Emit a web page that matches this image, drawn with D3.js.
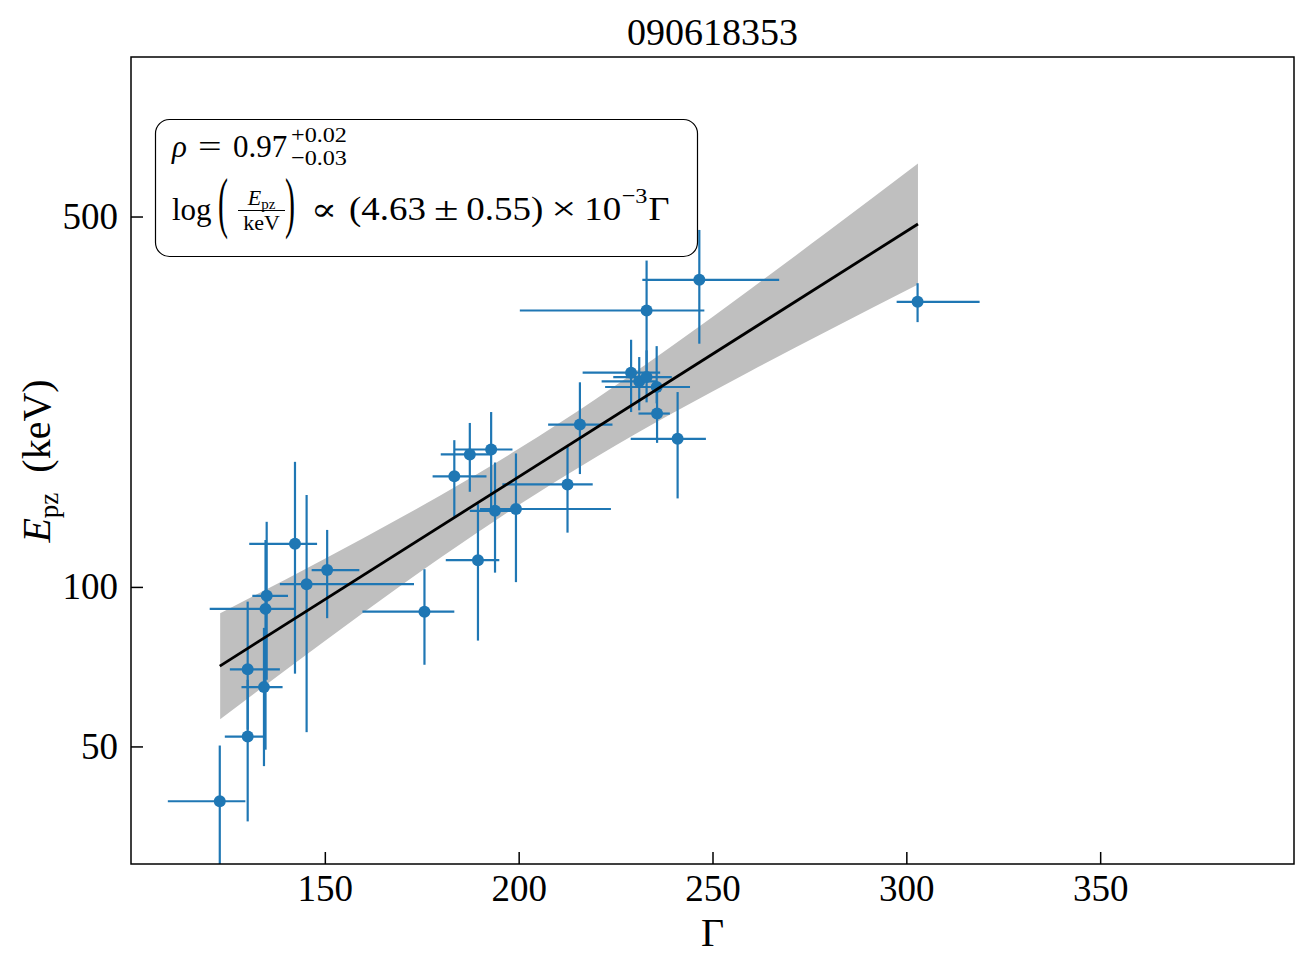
<!DOCTYPE html>
<html>
<head>
<meta charset="utf-8">
<script src="https://cdn.jsdelivr.net/npm/d3@7"></script>
<style>
  html, body { margin: 0; padding: 0; background: #fff; }
  svg { display: block; }
  text { font-family: "Liberation Serif", "DejaVu Serif", serif; fill: #000; }
</style>
</head>
<body>
<svg id="chart" width="1309" height="970"></svg>
<script>
// ---------------- data ----------------
const gamma   = [122.9, 130.1, 130.1, 134.3, 134.7, 135.0, 142.3, 145.3, 150.6, 175.7, 183.4, 187.4, 192.9, 189.5, 193.9, 199.3, 212.6, 215.8, 246.6, 233.0, 229.0, 231.1, 233.0, 235.6, 235.7, 241.0, 302.9];
const gammaLo = [109.5, 124.2, 125.5, 128.5, 120.3, 131.3, 130.5, 138.4, 146.6, 159.7, 177.8, 179.9, 183.5, 181.2, 187.4, 190.0, 195.8, 207.6, 231.9, 200.3, 216.5, 221.4, 224.4, 222.3, 230.9, 228.9, 297.5];
const gammaHi = [129.5, 134.3, 138.4, 139.1, 142.3, 140.5, 148.0, 173.0, 158.9, 183.4, 191.7, 193.0, 198.4, 195.0, 200.5, 223.8, 219.1, 224.2, 267.2, 247.9, 236.5, 235.6, 239.5, 244.2, 239.0, 248.3, 318.9];
const epz     = [39.4, 52.2, 69.9, 64.7, 90.9, 96.2, 120.6, 101.2, 107.6, 89.8, 161.7, 177.8, 181.7, 112.3, 139.2, 140.3, 156.1, 202.5, 379.7, 332.4, 253.7, 244.3, 248.9, 238.4, 212.4, 190.3, 345.1];
const epzLo   = [25.0, 36.1, 53.8, 45.9, 49.3, 66.8, 68.6, 53.2, 87.3, 71.3, 135.6, 151.2, 139.6, 79.2, 106.4, 102.1, 126.6, 163.3, 287.7, 245.4, 213.8, 215.4, 223.0, 222.0, 187.0, 146.9, 316.0];
const epzHi   = [50.2, 66.8, 93.8, 83.7, 122.6, 132.7, 172.2, 149.1, 128.1, 108.0, 189.2, 203.9, 213.8, 143.3, 171.7, 178.6, 183.8, 243.3, 471.7, 412.9, 292.7, 271.5, 279.5, 284.7, 235.0, 233.2, 374.2];

const fitGamma = [122.9, 303.0];
const fitEpz   = [70.9, 484.0];

const bandGamma = [123, 140, 160, 180, 200, 220, 240, 260, 280, 303];
const bandLo    = [56.3, 69.8, 89.5, 113.8, 142.7, 175.9, 213.3, 255.9, 305.1, 372.3];
const bandHi    = [89.2, 103.4, 123.7, 149.1, 182.2, 226.5, 286.3, 365.7, 469.9, 629.5];

const xTicks = [150, 200, 250, 300, 350];
const yTicks = [50, 100, 500];

const titleText = "090618353";

// ---------------- layout ----------------
const L = 131, R = 1294, T = 57, B = 864;
const svg = d3.select("#chart");

const x = d3.scaleLinear().domain([100, 400]).range([L, R]);
const y = d3.scaleLog().domain([30, 1000]).range([B, T]);

svg.append("defs").append("clipPath").attr("id", "clip")
  .append("rect").attr("x", L).attr("y", T).attr("width", R - L).attr("height", B - T);

const plot = svg.append("g").attr("clip-path", "url(#clip)");

// confidence band
const bandData = bandGamma.map((g, i) => ({ g, lo: bandLo[i], hi: bandHi[i] }));
plot.append("path")
  .datum(bandData)
  .attr("fill", "#bfbfbf")
  .attr("stroke", "none")
  .attr("d", d3.area().x(d => x(d.g)).y0(d => y(d.lo)).y1(d => y(d.hi)).curve(d3.curveMonotoneX));

// error bars
const pts = gamma.map((g, i) => ({ g, gl: gammaLo[i], gh: gammaHi[i], e: epz[i], el: epzLo[i], eh: epzHi[i] }));
const blue = "#1f77b4";
const eb = plot.append("g").attr("stroke", blue).attr("stroke-width", 2.2);
eb.selectAll("line.h").data(pts).join("line").attr("class", "h")
  .attr("x1", d => x(d.gl)).attr("x2", d => x(d.gh))
  .attr("y1", d => y(d.e)).attr("y2", d => y(d.e));
eb.selectAll("line.v").data(pts).join("line").attr("class", "v")
  .attr("x1", d => x(d.g)).attr("x2", d => x(d.g))
  .attr("y1", d => y(d.el)).attr("y2", d => y(d.eh));
plot.append("g").selectAll("circle").data(pts).join("circle")
  .attr("cx", d => x(d.g)).attr("cy", d => y(d.e)).attr("r", 6).attr("fill", blue);

// fit line
plot.append("path")
  .datum(fitGamma.map((g, i) => ({ g, e: fitEpz[i] })))
  .attr("fill", "none").attr("stroke", "#000").attr("stroke-width", 2.8)
  .attr("d", d3.line().x(d => x(d.g)).y(d => y(d.e)));

// axes
const xAxis = d3.axisBottom(x).tickValues(xTicks).tickSize(-12).tickPadding(11).tickFormat(d3.format("d"));
const gx = svg.append("g").attr("transform", `translate(0,${B})`).call(xAxis);
gx.select(".domain").remove();
gx.selectAll(".tick line").attr("stroke", "#000").attr("stroke-width", 1.5);
gx.selectAll(".tick text").attr("font-size", 37).attr("font-family", "Liberation Serif");

const yAxis = d3.axisLeft(y).tickValues(yTicks).tickSize(-12).tickPadding(13).tickFormat(d3.format("d"));
const gy = svg.append("g").attr("transform", `translate(${L},0)`).call(yAxis);
gy.select(".domain").remove();
gy.selectAll(".tick line").attr("stroke", "#000").attr("stroke-width", 1.5);
gy.selectAll(".tick text").attr("font-size", 37).attr("font-family", "Liberation Serif");

// frame
svg.append("rect").attr("x", L).attr("y", T).attr("width", R - L).attr("height", B - T)
  .attr("fill", "none").attr("stroke", "#000").attr("stroke-width", 1.5);

// title and axis labels
svg.append("text").attr("x", (L + R) / 2).attr("y", 45).attr("text-anchor", "middle")
  .attr("font-size", 38).text(titleText);
svg.append("text").attr("x", (L + R) / 2).attr("y", 946).attr("text-anchor", "middle")
  .attr("font-size", 40).text("Γ");

const yl = svg.append("text").attr("transform", "translate(50,461) rotate(-90)")
  .attr("text-anchor", "middle").attr("font-size", 40);
yl.append("tspan").attr("font-style", "italic").text("E");
yl.append("tspan").attr("font-size", 27).attr("dy", 8).text("pz");
yl.append("tspan").attr("dy", -8).text("\u2002(keV)");

// annotation box
svg.append("rect").attr("x", 155.5).attr("y", 119.5).attr("width", 542).attr("height", 137)
  .attr("rx", 14).attr("ry", 14).attr("fill", "#fff").attr("stroke", "#000").attr("stroke-width", 1.2);

function put(t, x0, y0, size, opts = {}) {
  const el = svg.append("text").attr("x", x0).attr("y", y0).attr("font-size", size)
    .attr("font-style", opts.italic ? "italic" : null).text(t);
  if (opts.sx || opts.sy) {
    const sx = opts.sx || 1, sy = opts.sy || 1;
    el.attr("transform", `translate(${x0},${y0}) scale(${sx},${sy}) translate(${-x0},${-y0})`);
  }
  return el;
}
function width(el, sx = 1) { return el.node().getComputedTextLength() * sx; }

// line 1: rho = 0.97^{+0.02}_{-0.03}
put("ρ", 172, 157, 31, { italic: true });
put("=", 198, 157, 31, { sx: 1.35 });
put("0.97", 233, 157, 31);
put("+0.02", 291, 142, 22, { sx: 1.1 });
put("−0.03", 291, 165, 22, { sx: 1.1 });

// line 2
const base2 = 220;
put("log", 172, base2, 31);
put("(", 218, 225, 30, { sy: 2.23 });
const num = svg.append("text").attr("y", 205).attr("font-size", 22);
num.append("tspan").attr("font-style", "italic").text("E");
num.append("tspan").attr("font-size", 15).attr("dy", 4).text("pz");
const den = svg.append("text").attr("y", 230).attr("font-size", 22).text("keV");
const fx0 = 238, fx1 = 285;
num.attr("x", (fx0 + fx1) / 2).attr("text-anchor", "middle");
den.attr("x", (fx0 + fx1) / 2).attr("text-anchor", "middle");
svg.append("line").attr("x1", fx0).attr("x2", fx1).attr("y1", 210.5).attr("y2", 210.5)
  .attr("stroke", "#000").attr("stroke-width", 1.2);
put(")", 285, 225, 30, { sy: 2.23 });
put("∝", 311, base2, 31, { sx: 1.25 });

// remaining pieces chained and spread to end at x = 668
const pieces = [
  { t: "(4.63", size: 33, y: base2, sx: 1.12 },
  { t: "±", size: 33, y: base2, sx: 1.35 },
  { t: "0.55)", size: 33, y: base2, sx: 1.12 },
  { t: "×", size: 33, y: base2, sx: 1.35 },
  { t: "10", size: 33, y: base2, sx: 1.12 },
  { t: "−3", size: 22, y: 203, sx: 1.1 },
  { t: "Γ", size: 33, y: base2, sx: 1.1 }
];
const baseGaps = [1, 1, 1, 1, 0, 0];
const x0 = 349, xEnd = 668;
let tot = 0;
pieces.forEach(p => {
  const tmp = put(p.t, 0, 0, p.size);
  p.w = width(tmp, p.sx);
  tmp.remove();
  tot += p.w;
});
const extra = Math.max(0, (xEnd - x0 - tot - d3.sum(baseGaps)) / 4);
const gaps = [extra + 1, extra + 1, extra + 1, extra + 1, 0.5, 1];
let cx = x0;
pieces.forEach((p, i) => {
  put(p.t, cx, p.y, p.size, { sx: p.sx });
  cx += p.w + (i < gaps.length ? gaps[i] : 0);
});
</script>
</body>
</html>
